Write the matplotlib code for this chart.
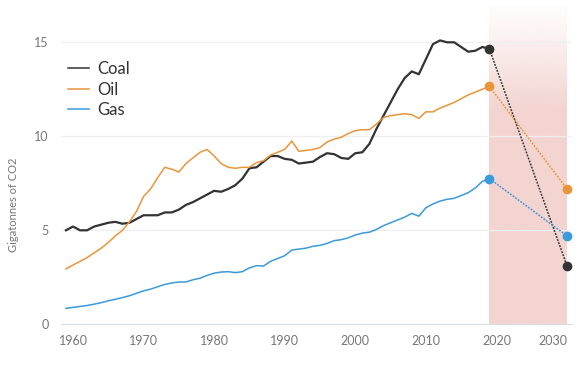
import matplotlib
matplotlib.use("Agg")
import matplotlib.pyplot as plt
import numpy as np

plt.rcParams['font.family'] = ['Lato', 'DejaVu Sans']

# historical emissions, Gt CO2
years = list(range(1959, 2020))
coal = [5.0, 5.2, 5.0, 5.0, 5.2, 5.3, 5.4, 5.45, 5.35, 5.4,
        5.6, 5.8, 5.8, 5.8, 5.95, 5.95, 6.1, 6.35, 6.5, 6.7,
        6.9, 7.1, 7.05, 7.2, 7.4, 7.75, 8.3, 8.35, 8.65, 8.95,
        8.95, 8.8, 8.75, 8.55, 8.6, 8.65, 8.9, 9.1, 9.05, 8.85,
        8.8, 9.1, 9.15, 9.6, 10.4, 11.1, 11.8, 12.5, 13.1, 13.45,
        13.3, 14.1, 14.9, 15.1, 15.0, 15.0, 14.75, 14.5, 14.55, 14.75,
        14.65]
oil = [2.95, 3.15, 3.35, 3.55, 3.8, 4.05, 4.35, 4.7, 5.0, 5.45,
       6.0, 6.8, 7.2, 7.8, 8.35, 8.25, 8.1, 8.55, 8.85, 9.15,
       9.3, 8.95, 8.55, 8.35, 8.3, 8.35, 8.35, 8.6, 8.7, 9.0,
       9.15, 9.3, 9.75, 9.2, 9.25, 9.3, 9.4, 9.7, 9.85, 9.95,
       10.15, 10.3, 10.35, 10.35, 10.65, 11.0, 11.1, 11.15, 11.2, 11.15,
       10.95, 11.3, 11.3, 11.5, 11.65, 11.8, 12.0, 12.2, 12.35, 12.5,
       12.65]
gas = [0.85, 0.9, 0.95, 1.0, 1.07, 1.15, 1.25, 1.33, 1.42, 1.52,
       1.65, 1.78, 1.87, 2.0, 2.12, 2.2, 2.25, 2.25, 2.37, 2.45,
       2.6, 2.72, 2.78, 2.8, 2.75, 2.8, 3.0, 3.12, 3.1, 3.35,
       3.5, 3.65, 3.95, 4.0, 4.05, 4.15, 4.2, 4.3, 4.45, 4.5,
       4.6, 4.75, 4.85, 4.9, 5.05, 5.25, 5.4, 5.55, 5.7, 5.9,
       5.75, 6.2, 6.4, 6.55, 6.65, 6.7, 6.85, 7.0, 7.25, 7.6,
       7.75]

# 2030 targets
proj_year = 2030
coal_2030 = 3.1
oil_2030 = 7.2
gas_2030 = 4.7

labels = ['Coal', 'Oil', 'Gas']
colors = ['#333333', '#e8963c', '#3b9ad9']
widths = [1.6, 1.1, 1.1]
series = [coal, oil, gas]
targets = [coal_2030, oil_2030, gas_2030]

fig = plt.figure(figsize=(5.83, 3.72), dpi=100)
ax = fig.add_axes([0.1046, 0.1282, 0.8765, 0.8592])

ymax = 17
# shaded projection window, fading towards the top
h = 200
alpha = np.clip(np.linspace(0, 3.0, h), 0, 1)[:, None]
shade = np.zeros((h, 1, 4))
shade[..., 0] = 243 / 255
shade[..., 1] = 212 / 255
shade[..., 2] = 208 / 255
shade[..., 3] = alpha
ax.imshow(shade, extent=[years[-1], proj_year, 0, ymax], origin='upper',
          aspect='auto', zorder=0.1, interpolation='bilinear')

for vals, tgt, lab, col, lw in zip(series, targets, labels, colors, widths):
    ax.plot(years, vals, color=col, lw=lw, label=lab, zorder=3)
    ax.plot([years[-1], proj_year], [vals[-1], tgt], color=col, lw=1.1,
            ls=(0, (1.2, 0.9)), zorder=3)
    ax.plot([years[-1], proj_year], [vals[-1], tgt], 'o', color=col,
            ms=6, zorder=4)

ax.set_xlim(1958.3, 2030.7)
ax.set_ylim(0, ymax)
ax.set_xticks([1960, 1970, 1980, 1990, 2000, 2010, 2020, 2030])
ax.set_yticks([0, 5, 10, 15])
ax.set_axisbelow(True)
ax.grid(axis='y', color='#eeeff2', lw=0.9)
ax.grid(axis='x', visible=False)
for s in ['top', 'right', 'left']:
    ax.spines[s].set_visible(False)
ax.spines['bottom'].set_color('#d8dee9')
ax.tick_params(length=0, labelsize=9, colors='#777777')
ax.tick_params(axis='y', pad=9)
ax.tick_params(axis='x', pad=8)
ax.get_xticklabels()[-1].set_horizontalalignment('right')

ax.set_ylabel('Gigatonnes of CO2', fontsize=8, color='#777777')
ax.yaxis.set_label_coords(-0.082, 0.373)

leg = ax.legend(loc='upper left', bbox_to_anchor=(0.0, 0.845), frameon=False,
                fontsize=12, handlelength=1.3, handletextpad=0.45,
                labelspacing=0.28, borderaxespad=0)
for t in leg.get_texts():
    t.set_color('#333333')
for ln in leg.get_lines():
    ln.set_linewidth(1.1)

fig.savefig('out.png', dpi=100)
